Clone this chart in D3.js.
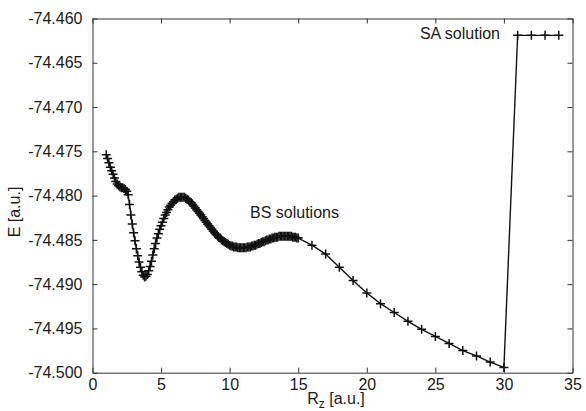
<!DOCTYPE html>
<html>
<head>
<meta charset="utf-8">
<script src="https://cdn.jsdelivr.net/npm/d3@7"></script>
<style>
  html, body { margin: 0; padding: 0; background: #fff; }
  svg { display: block; }
  text { font-family: "Liberation Sans", Arial, Helvetica, sans-serif; fill: #1a1a1a; }
</style>
</head>
<body>
<svg id="chart" width="586" height="411"></svg>
<script>
// Broken-symmetry (BS) solutions: dense scan in Rz
const bsRz = [
  1.0, 1.1, 1.2, 1.3, 1.4, 1.5, 1.6, 1.7, 1.8, 1.9,
  2.0, 2.1, 2.2, 2.3, 2.4, 2.5, 2.6, 2.7, 2.8, 2.9,
  3.0, 3.1, 3.2, 3.3, 3.4, 3.5, 3.6, 3.7, 3.8, 3.9,
  4.0, 4.1, 4.2, 4.3, 4.4, 4.5, 4.6, 4.7, 4.8, 4.9,
  5.0, 5.1, 5.2, 5.3, 5.4, 5.5, 5.6, 5.7, 5.8, 5.9,
  6.0, 6.1, 6.2, 6.3, 6.4, 6.5, 6.6, 6.7, 6.8, 6.9,
  7.0, 7.1, 7.2, 7.3, 7.4, 7.5, 7.6, 7.7, 7.8, 7.9,
  8.0, 8.1, 8.2, 8.3, 8.4, 8.5, 8.6, 8.7, 8.8, 8.9,
  9.0, 9.1, 9.2, 9.3, 9.4, 9.5, 9.6, 9.7, 9.8, 9.9,
  10.0, 10.1, 10.2, 10.3, 10.4, 10.5, 10.6, 10.7, 10.8, 10.9,
  11.0, 11.1, 11.2, 11.3, 11.4, 11.5, 11.6, 11.7, 11.8, 11.9,
  12.0, 12.1, 12.2, 12.3, 12.4, 12.5, 12.6, 12.7, 12.8, 12.9,
  13.0, 13.1, 13.2, 13.3, 13.4, 13.5, 13.6, 13.7, 13.8, 13.9,
  14.0, 14.1, 14.2, 14.3, 14.4, 14.5, 14.6, 14.7, 14.8, 14.9,
  15.0
];
const bsE = [
  -74.4754, -74.4758, -74.4763, -74.4768, -74.4772, -74.4776, -74.4780, -74.4784, -74.4787, -74.4789,
  -74.4790, -74.4791, -74.4791, -74.4792, -74.4793, -74.4795, -74.4799, -74.4810, -74.4822, -74.4832,
  -74.4842, -74.4851, -74.4860, -74.4868, -74.4875, -74.4881, -74.4886, -74.4890, -74.4892, -74.4891,
  -74.4889, -74.4885, -74.4880, -74.4874, -74.4867, -74.4860, -74.4854, -74.4848, -74.4843, -74.4838,
  -74.4834, -74.4830, -74.4826, -74.4822, -74.4819, -74.4816, -74.4813, -74.4811, -74.4809, -74.4807,
  -74.4805, -74.4804, -74.4803, -74.4802, -74.4802, -74.4802, -74.4802, -74.4802, -74.4803, -74.4804,
  -74.4805, -74.4807, -74.4808, -74.4810, -74.4812, -74.4814, -74.4816, -74.4818, -74.4820, -74.4822,
  -74.4824, -74.4826, -74.4828, -74.4830, -74.4832, -74.4834, -74.4836, -74.4838, -74.4840, -74.4842,
  -74.4844, -74.4845, -74.4847, -74.4848, -74.4850, -74.4851, -74.4852, -74.4853, -74.4854, -74.4855,
  -74.4856, -74.4857, -74.4857, -74.4858, -74.4858, -74.4858, -74.4859, -74.4859, -74.4859, -74.4859,
  -74.4859, -74.4859, -74.4859, -74.4858, -74.4858, -74.4858, -74.4857, -74.4857, -74.4856, -74.4856,
  -74.4855, -74.4854, -74.4854, -74.4853, -74.4852, -74.4852, -74.4851, -74.4850, -74.4850, -74.4849,
  -74.4849, -74.4848, -74.4848, -74.4847, -74.4847, -74.4847, -74.4846, -74.4846, -74.4846, -74.4846,
  -74.4846, -74.4846, -74.4846, -74.4846, -74.4846, -74.4846, -74.4847, -74.4847, -74.4847, -74.4848,
  -74.4848
];

// BS solutions: coarse scan at larger Rz
const bsCoarseRz = [16, 17, 18, 19, 20, 21, 22, 23, 24, 25, 26, 27, 28, 29, 30];
const bsCoarseE = [
  -74.4856, -74.4866, -74.4881, -74.4896, -74.4910, -74.4922, -74.4932, -74.4942,
  -74.4951, -74.4959, -74.4967, -74.4975, -74.4981, -74.4988, -74.4994
];

// Spin-adapted (SA) solution
const saRz = [31, 32, 33, 34];
const saE = [-74.4619, -74.4619, -74.4619, -74.4619];

// Axis ticks
const xTicks = [0, 5, 10, 15, 20, 25, 30, 35];
const yTicks = [-74.460, -74.465, -74.470, -74.475, -74.480, -74.485, -74.490, -74.495, -74.500];

const points = []
  .concat(bsRz.map((r, i) => ({ r, e: bsE[i] })))
  .concat(bsCoarseRz.map((r, i) => ({ r, e: bsCoarseE[i] })))
  .concat(saRz.map((r, i) => ({ r, e: saE[i] })));

const svg = d3.select("#chart");
const plotLeft = 92.5, plotRight = 572.5, plotTop = 18.5, plotBottom = 372.7;

const x = d3.scaleLinear().domain([0, 35]).range([plotLeft, plotRight]);
const y = d3.scaleLinear().domain([-74.500, -74.460]).range([plotBottom, plotTop]);

const axisColor = "#333";
const fmtY = d3.format(".3f");

function styleAxis(g) {
  g.selectAll("path.domain").attr("stroke", axisColor).attr("stroke-width", 1);
  g.selectAll(".tick line").attr("stroke", axisColor).attr("stroke-width", 1);
  g.selectAll(".tick text").attr("fill", "#1a1a1a").style("font-size", "16px")
    .style("font-family", '"Liberation Sans", Arial, sans-serif');
}

// Bottom axis with inward ticks
svg.append("g")
  .attr("transform", `translate(0,${plotBottom})`)
  .call(d3.axisBottom(x).tickValues(xTicks).tickSizeInner(-5).tickSizeOuter(0).tickPadding(6))
  .call(styleAxis);

// Top axis (ticks only)
svg.append("g")
  .attr("transform", `translate(0,${plotTop})`)
  .call(d3.axisTop(x).tickValues(xTicks).tickSizeInner(-5).tickSizeOuter(0).tickFormat(""))
  .call(styleAxis);

// Left axis
svg.append("g")
  .attr("transform", `translate(${plotLeft},0)`)
  .call(d3.axisLeft(y).tickValues(yTicks).tickSizeInner(-5).tickSizeOuter(0).tickPadding(10)
    .tickFormat(d => fmtY(d).replace("\u2212", "-")))
  .call(styleAxis);

// Right axis (ticks only)
svg.append("g")
  .attr("transform", `translate(${plotRight},0)`)
  .call(d3.axisRight(y).tickValues(yTicks).tickSizeInner(-5).tickSizeOuter(0).tickFormat(""))
  .call(styleAxis);

// Connecting line
const line = d3.line().x(d => x(d.r)).y(d => y(d.e));
svg.append("path")
  .datum(points)
  .attr("fill", "none")
  .attr("stroke", "#111")
  .attr("stroke-width", 1.4)
  .attr("d", line);

// Plus markers
const h = 4.5;
svg.append("g")
  .selectAll("path")
  .data(points)
  .join("path")
  .attr("transform", d => `translate(${x(d.r)},${y(d.e)})`)
  .attr("d", `M${-h},0H${h}M0,${-h}V${h}`)
  .attr("stroke", "#111")
  .attr("stroke-width", 1.5)
  .attr("fill", "none");

// Axis titles
const xTitle = svg.append("text")
  .attr("x", 336)
  .attr("y", 404)
  .attr("text-anchor", "middle")
  .style("font-size", "16px");
xTitle.append("tspan").text("R");
xTitle.append("tspan").attr("dy", 4).style("font-size", "12px").text("z");
xTitle.append("tspan").attr("dy", -4).text(" [a.u.]");

svg.append("text")
  .attr("transform", "translate(20,212) rotate(-90)")
  .attr("text-anchor", "middle")
  .style("font-size", "16px")
  .text("E [a.u.]");

// Annotations
svg.append("text")
  .attr("x", 250)
  .attr("y", 218)
  .style("font-size", "16px")
  .text("BS solutions");

svg.append("text")
  .attr("x", 500)
  .attr("y", 39)
  .attr("text-anchor", "end")
  .style("font-size", "16px")
  .text("SA solution");
</script>
</body>
</html>
